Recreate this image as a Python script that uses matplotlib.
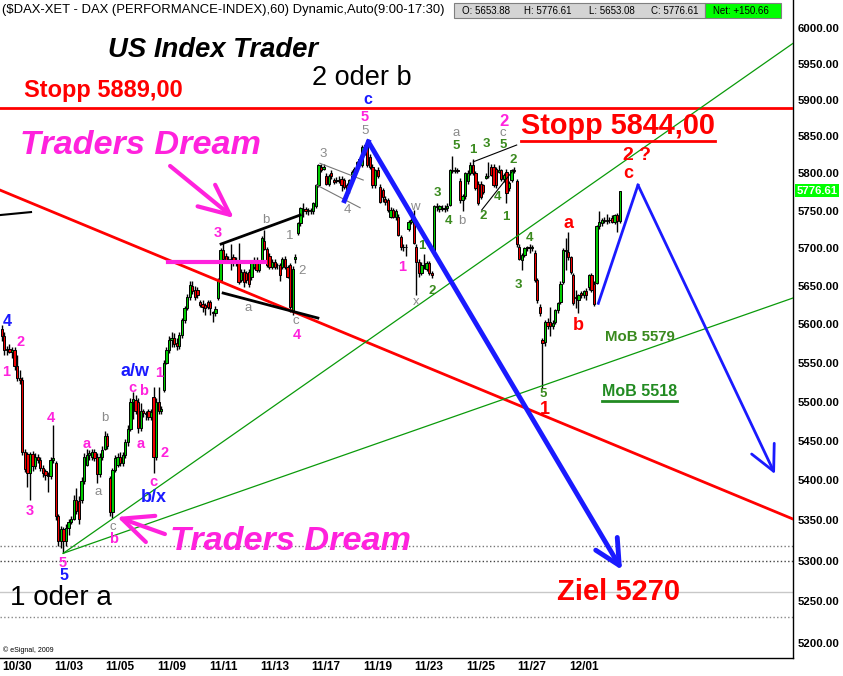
import matplotlib
matplotlib.use("Agg")
import matplotlib.pyplot as plt
import matplotlib.font_manager as fm
from matplotlib.lines import Line2D
from matplotlib.patches import Rectangle
from matplotlib.ticker import NullLocator
from matplotlib.transforms import blended_transform_factory
import numpy as np

# hourly DAX bars, 10 per trading day (first row: tail of 10/28 + 10/29)
opens = [
    5594, 5585, 5566, 5568, 5564, 5566, 5546, 5530, 5528, 5436, 5433,
    5409, 5433, 5418, 5430, 5426, 5416, 5412, 5407, 5405, 5426,
    5422, 5355, 5324, 5339, 5325, 5340, 5348, 5352, 5376, 5374,
    5376, 5399, 5420, 5432, 5430, 5436, 5430, 5408, 5430, 5440,
    5456, 5403, 5360, 5413, 5420, 5430, 5422, 5432, 5448, 5465,
    5500, 5502, 5500, 5466, 5488, 5486, 5488, 5480, 5506, 5430,
    5500, 5488, 5515, 5550, 5566, 5579, 5582, 5576, 5572, 5586,
    5605, 5621, 5636, 5650, 5645, 5645, 5629, 5626, 5625, 5629,
    5629, 5616, 5614, 5634, 5658, 5697, 5690, 5684, 5686, 5688,
    5684, 5681, 5658, 5669, 5667, 5669, 5662, 5675, 5684, 5671,
    5682, 5710, 5699, 5690, 5675, 5682, 5677, 5677, 5675, 5686,
    5675, 5677, 5616, 5686, 5720, 5733, 5751, 5752, 5749, 5749,
    5749, 5756, 5784, 5809, 5806, 5797, 5786, 5800, 5791, 5790,
    5791, 5793, 5791, 5784, 5777, 5791, 5800, 5809, 5817, 5811,
    5827, 5840, 5822, 5809, 5784, 5804, 5782, 5777, 5766, 5764,
    5742, 5751, 5742, 5742, 5715, 5702, 5701, 5726, 5735, 5742,
    5702, 5682, 5667, 5678, 5673, 5680, 5667, 5692, 5756, 5752,
    5754, 5752, 5754, 5758, 5804, 5803, 5804, 5790, 5764, 5770,
    5790, 5800, 5811, 5800, 5786, 5786, 5784, 5794, 5796, 5809,
    5809, 5806, 5802, 5804, 5792, 5802, 5780, 5791, 5804, 5790,
    5702, 5684, 5691, 5700, 5701, 5700, 5694, 5658, 5623, 5579,
    5577, 5603, 5603, 5597, 5603, 5618, 5629, 5655, 5697, 5695,
    5688, 5664, 5636, 5632, 5641, 5638, 5643, 5648, 5664, 5653,
    5653.88, 5729, 5733, 5737, 5736, 5738, 5740, 5735, 5744, 5736,
]
highs = [
    5599, 5590, 5572, 5574, 5570, 5570, 5560, 5540, 5531, 5440, 5436,
    5436, 5437, 5434, 5433, 5430, 5419, 5415, 5410, 5430, 5470,
    5425, 5358, 5343, 5342, 5345, 5352, 5356, 5382, 5390, 5380,
    5404, 5434, 5440, 5438, 5440, 5440, 5434, 5434, 5443, 5462,
    5460, 5406, 5416, 5432, 5434, 5436, 5436, 5452, 5470, 5504,
    5512, 5508, 5504, 5498, 5490, 5488, 5490, 5490, 5519, 5504,
    5519, 5494, 5554, 5570, 5584, 5590, 5588, 5582, 5590, 5608,
    5624, 5640, 5656, 5656, 5650, 5648, 5632, 5631, 5628, 5632,
    5631, 5617, 5624, 5660, 5700, 5707, 5694, 5690, 5706, 5692,
    5688, 5707, 5672, 5672, 5670, 5672, 5684, 5688, 5688, 5684,
    5716, 5724, 5702, 5693, 5686, 5686, 5680, 5680, 5688, 5690,
    5678, 5680, 5676, 5692, 5735, 5755, 5760, 5755, 5753, 5754,
    5762, 5786, 5812, 5813, 5812, 5800, 5799, 5805, 5794, 5795,
    5796, 5796, 5794, 5787, 5793, 5804, 5808, 5817, 5822, 5838,
    5840, 5843, 5826, 5812, 5806, 5808, 5786, 5780, 5770, 5767,
    5755, 5754, 5752, 5745, 5718, 5706, 5705, 5737, 5740, 5751,
    5705, 5686, 5681, 5692, 5683, 5683, 5670, 5758, 5760, 5758,
    5758, 5757, 5760, 5806, 5824, 5808, 5807, 5794, 5772, 5802,
    5804, 5815, 5820, 5803, 5790, 5790, 5786, 5800, 5815, 5812,
    5812, 5808, 5811, 5806, 5800, 5806, 5790, 5806, 5808, 5792,
    5706, 5694, 5702, 5703, 5706, 5704, 5697, 5661, 5626, 5582,
    5606, 5608, 5623, 5606, 5620, 5629, 5656, 5700, 5713, 5721,
    5690, 5667, 5645, 5640, 5644, 5645, 5647, 5666, 5667, 5656,
    5731, 5749, 5740, 5741, 5745, 5742, 5744, 5746, 5747, 5776.61,
]
lows = [
    5578, 5560, 5560, 5562, 5556, 5540, 5526, 5522, 5432, 5410, 5392,
    5376, 5412, 5414, 5422, 5412, 5404, 5400, 5386, 5402, 5422,
    5350, 5318, 5316, 5310, 5318, 5332, 5345, 5350, 5358, 5346,
    5372, 5396, 5418, 5426, 5426, 5424, 5397, 5404, 5426, 5438,
    5440, 5355, 5353, 5410, 5417, 5418, 5418, 5428, 5444, 5462,
    5478, 5484, 5460, 5462, 5480, 5476, 5476, 5476, 5409, 5426,
    5484, 5484, 5512, 5548, 5562, 5570, 5570, 5566, 5568, 5582,
    5602, 5618, 5632, 5640, 5632, 5634, 5622, 5616, 5612, 5620,
    5612, 5603, 5610, 5632, 5655, 5682, 5680, 5680, 5671, 5676,
    5676, 5653, 5655, 5648, 5654, 5648, 5658, 5672, 5668, 5668,
    5680, 5697, 5675, 5672, 5672, 5672, 5673, 5657, 5672, 5672,
    5660, 5616, 5612, 5680, 5718, 5730, 5742, 5746, 5744, 5745,
    5746, 5754, 5782, 5802, 5804, 5784, 5783, 5792, 5786, 5787,
    5787, 5776, 5779, 5772, 5774, 5789, 5798, 5806, 5815, 5808,
    5825, 5808, 5806, 5780, 5780, 5794, 5760, 5762, 5758, 5748,
    5740, 5740, 5738, 5716, 5698, 5696, 5689, 5723, 5732, 5705,
    5638, 5662, 5664, 5672, 5670, 5664, 5660, 5690, 5750, 5748,
    5750, 5748, 5750, 5756, 5800, 5800, 5800, 5760, 5750, 5766,
    5786, 5798, 5798, 5778, 5758, 5766, 5772, 5792, 5794, 5796,
    5782, 5780, 5800, 5790, 5788, 5760, 5776, 5788, 5800, 5702,
    5684, 5671, 5688, 5696, 5694, 5696, 5655, 5628, 5610, 5518,
    5572, 5594, 5584, 5594, 5600, 5615, 5626, 5652, 5671, 5684,
    5666, 5625, 5621, 5614, 5634, 5634, 5632, 5645, 5642, 5624,
    5653.08, 5726, 5730, 5733, 5732, 5734, 5733, 5732, 5721, 5733,
]
closes = [
    5585, 5566, 5568, 5564, 5566, 5546, 5530, 5528, 5436, 5414, 5409,
    5433, 5418, 5430, 5426, 5416, 5409, 5407, 5405, 5426, 5428,
    5355, 5324, 5339, 5325, 5340, 5348, 5352, 5376, 5362, 5352,
    5399, 5430, 5432, 5434, 5436, 5428, 5408, 5430, 5439, 5456,
    5443, 5360, 5413, 5428, 5430, 5422, 5432, 5448, 5465, 5500,
    5503, 5488, 5466, 5488, 5486, 5484, 5480, 5487, 5430, 5500,
    5488, 5490, 5550, 5566, 5579, 5582, 5574, 5572, 5586, 5605,
    5621, 5636, 5651, 5644, 5636, 5638, 5625, 5622, 5621, 5623,
    5621, 5614, 5620, 5658, 5697, 5686, 5684, 5686, 5684, 5680,
    5680, 5655, 5669, 5655, 5658, 5653, 5680, 5684, 5671, 5680,
    5714, 5699, 5677, 5675, 5682, 5675, 5677, 5664, 5686, 5675,
    5662, 5622, 5673, 5688, 5733, 5753, 5752, 5749, 5751, 5751,
    5760, 5784, 5811, 5804, 5809, 5786, 5797, 5796, 5788, 5791,
    5790, 5784, 5782, 5776, 5791, 5802, 5806, 5815, 5820, 5836,
    5838, 5811, 5809, 5784, 5804, 5797, 5762, 5768, 5762, 5751,
    5751, 5742, 5750, 5718, 5702, 5701, 5702, 5735, 5738, 5707,
    5682, 5667, 5678, 5676, 5680, 5667, 5665, 5756, 5755, 5756,
    5752, 5754, 5756, 5804, 5803, 5804, 5803, 5764, 5770, 5800,
    5800, 5811, 5800, 5780, 5760, 5768, 5775, 5796, 5797, 5798,
    5784, 5784, 5804, 5792, 5798, 5774, 5787, 5804, 5803, 5705,
    5686, 5691, 5700, 5701, 5700, 5702, 5658, 5631, 5614, 5575,
    5603, 5597, 5597, 5601, 5618, 5627, 5653, 5697, 5696, 5688,
    5669, 5628, 5634, 5638, 5638, 5643, 5638, 5664, 5645, 5625.95,
    5729, 5735, 5737, 5736, 5738, 5737, 5735, 5744, 5736, 5776.61,
]

days = ["10/30", "11/02", "11/03", "11/04", "11/05", "11/06", "11/09", "11/10",
        "11/11", "11/12", "11/13", "11/16", "11/17", "11/18", "11/19", "11/20",
        "11/23", "11/24", "11/25", "11/26", "11/27", "11/30", "12/01"]
first_day_bar = 11
bars_per_day = 10

price_ticks = list(range(5200, 6001, 50))
last_close = 5776.61
day_open, day_high, day_low, day_net = 5653.88, 5776.61, 5653.08, 150.66
stopp_level = 5889
bottom_levels = [5318, 5300, 5262, 5231]

# drawn lines: (bar index, price) end points
red_trend = ([-0.65, 307.3], [5777.5, 5351.7])
green_fast = ([23.9, 307.3], [5309.2, 5978.2])
green_slow = ([23.9, 307.3], [5309.2, 5634.2])
pink_level = ([64.6, 102.3], [5682, 5682])
tri_upper = ([85.2, 115.9], [5705.4, 5744.0])
tri_lower = ([86.0, 122.8], [5640.7, 5608.0])
chan_a = ([123.6, 140.4], [5813.6, 5791.0])
chan_b = ([122.3, 139.2], [5784.3, 5753.8])
wedge_upper = ([183.2, 200.0], [5815.7, 5838.4])
wedge_lower = ([186.4, 198.7], [5750.7, 5804.5])
black_stub = ([-0.65, 11.4], [5744.0, 5748.0])
blue_4_5 = ([133.1, 142.4], [5763.2, 5842.8])
blue_main = ([142.4, 240.9], [5842.8, 5288.6])
blue_path = ([231.7, 247.1, 300.3], [5627.2, 5784.3, 5408.0])
pink_arrow_1 = ((65.4, 5810.0), (90.2, 5740.0))
pink_arrow_2 = ((63.4, 5333.0), (44.8, 5354.3))

W, H = 843, 676
PINK = "#ff22dd"
BLUE = "#1a1aff"
GRAY = "#8a8a8a"
OLIVE = "#3a8a1e"
RED = "#ff0000"
LGREEN = "#0a9a0a"

plt.rcParams["font.family"] = "Liberation Sans"
names = {f.name for f in fm.fontManager.ttflist}
narrow = "Liberation Sans Narrow" if "Liberation Sans Narrow" in names else "Liberation Sans"
head_size = 11.3 if narrow == "Liberation Sans Narrow" else 9.4

fig = plt.figure(figsize=(W / 100, H / 100), dpi=100)
ax = fig.add_axes([0, 18 / H, 793 / W, 658 / H])
ax.set_yscale("log")

# candles
x = np.arange(len(closes))
o = np.array(opens)
c = np.array(closes)
up = c >= o
ax.vlines(x, lows, highs, color="black", lw=1.0, zorder=3)
ax.bar(x, np.maximum(np.abs(c - o), 0.8), bottom=np.minimum(o, c), width=0.88,
       color=np.where(up, "#00cc00", "#ee0000"), edgecolor="black", lw=0.7, zorder=4)

# levels and lines
ax.axhline(stopp_level, color=RED, lw=2, zorder=5)
for lvl, st, col in zip(bottom_levels, [":", ":", "-", ":"], ["#777777", "#444444", "#c8c8c8", "#888888"]):
    ax.axhline(lvl, color=col, ls=st, lw=1, zorder=1)
ax.plot(*red_trend, color=RED, lw=2, zorder=5)
ax.plot(*green_fast, color=LGREEN, lw=0.9, zorder=5)
ax.plot(*green_slow, color=LGREEN, lw=0.9, zorder=5)
ax.plot(*pink_level, color=PINK, lw=3, zorder=5)
ax.plot(*tri_upper, color="black", lw=2, zorder=5)
ax.plot(*tri_lower, color="black", lw=2, zorder=5)
ax.plot(*chan_a, color="#777777", lw=0.8, zorder=5)
ax.plot(*chan_b, color="#777777", lw=0.8, zorder=5)
ax.plot(*wedge_upper, color="black", lw=0.8, zorder=5)
ax.plot(*wedge_lower, color="black", lw=0.8, zorder=5)
ax.plot(*black_stub, color="black", lw=1.5, zorder=5)
ax.plot(*blue_4_5, color=BLUE, lw=3.5, zorder=6)

head = dict(mutation_scale=20, shrinkA=0, shrinkB=0)
ax.annotate("", xy=(blue_main[0][1], blue_main[1][1]), xytext=(blue_main[0][0], blue_main[1][0]),
            arrowprops=dict(arrowstyle="->,head_length=0.9,head_width=0.45", color=BLUE, lw=3.5, **head), zorder=6)
ax.plot(blue_path[0][:2], blue_path[1][:2], color=BLUE, lw=2, zorder=6)
ax.annotate("", xy=(blue_path[0][2], blue_path[1][2]), xytext=(blue_path[0][1], blue_path[1][1]),
            arrowprops=dict(arrowstyle="->,head_length=0.9,head_width=0.45", color=BLUE, lw=2, **head), zorder=6)
for tail, tip in (pink_arrow_1, pink_arrow_2):
    ax.annotate("", xy=tip, xytext=tail,
                arrowprops=dict(arrowstyle="->,head_length=1.1,head_width=0.5", color=PINK, lw=3, **head), zorder=7)

# axes
ax.set_xlim(-0.65, 307.3)
ax.set_ylim(5181.4, 6038.8)
ax.yaxis.set_minor_locator(NullLocator())
ax.set_yticks(price_ticks)
ax.set_yticklabels([f"{t:.2f}" for t in price_ticks], fontsize=8.2, fontweight="bold")
ax.yaxis.tick_right()
ax.tick_params(axis="y", length=0, pad=3)
ticks = [first_day_bar + bars_per_day * k - 5 for k in range(0, len(days), 2)]
ax.set_xticks(ticks)
ax.set_xticklabels(days[::2], fontsize=8.5, fontweight="bold")
ax.tick_params(axis="x", length=0, pad=2)
for s in ("top", "left"):
    ax.spines[s].set_visible(False)
for s in ("right", "bottom"):
    ax.spines[s].set_linewidth(1)

flag = blended_transform_factory(ax.transAxes, ax.transData)
ax.text(1.004, last_close, f"{last_close:.2f}", transform=flag, ha="left", va="center",
        color="white", fontsize=8.2, fontweight="bold", clip_on=False,
        bbox=dict(boxstyle="square,pad=0.12", fc="#00ff00", ec="none"))


def ftxt(px, py, s, color="black", size=10, weight="bold", ha="center", style="normal", family=None):
    fig.text(px / W, 1 - py / H, s, color=color, fontsize=size, fontweight=weight,
             ha=ha, va="center", fontstyle=style, family=family)


def fline(x1, x2, py, color, lw=2):
    fig.add_artist(Line2D([x1 / W, x2 / W], [1 - py / H] * 2, color=color, lw=lw))


# header
ftxt(2, 10, "($DAX-XET - DAX (PERFORMANCE-INDEX),60) Dynamic,Auto(9:00-17:30)",
     size=head_size, weight="normal", ha="left", family=narrow)
fig.add_artist(Rectangle((454 / W, 1 - 18 / H), 251 / W, 15 / H, transform=fig.transFigure,
                         fc="#d4d4d4", ec="#808080", lw=0.8))
fig.add_artist(Rectangle((705 / W, 1 - 18 / H), 76 / W, 15 / H, transform=fig.transFigure,
                         fc="#00ff00", ec="#808080", lw=0.8))
for px_, s in [(462, f"O: {day_open:.2f}"), (524, f"H: {day_high:.2f}"),
               (589, f"L: {day_low:.2f}"), (651, f"C: {last_close:.2f}"), (713, f"Net: +{day_net:.2f}")]:
    ftxt(px_, 10.5, s, size=7, weight="normal", ha="left", family=narrow)

# big texts
ftxt(108, 50, "US Index Trader", size=19.8, style="italic", ha="left")
ftxt(312, 78, "2 oder b", size=19.5, weight="normal", ha="left")
ftxt(24, 90, "Stopp 5889,00", color=RED, size=17, ha="left")
ftxt(521, 126, "Stopp 5844,00", color=RED, size=20.8, ha="left")
fline(521, 715, 141, RED)
ftxt(20, 146, "Traders Dream", color=PINK, size=24.7, style="italic", ha="left")
ftxt(170, 541, "Traders Dream", color=PINK, size=24.7, style="italic", ha="left")
ftxt(10, 598, "1 oder a", size=20, weight="normal", ha="left")
ftxt(557, 592, "Ziel 5270", color=RED, size=21, ha="left")
ftxt(605, 337, "MoB 5579", color=OLIVE, size=10.8, ha="left")
ftxt(602, 391, "MoB 5518", color="#228b22", size=11.5, ha="left")
fline(602, 677, 401, "#228b22")
ftxt(3, 650, "\u00a9 eSignal, 2009", size=5, weight="normal", ha="left")

# wave counts
for px_, py_, s in [(21, 342, "2"), (6, 372, "1"), (51, 418, "4"), (30, 511, "3"), (63, 563, "5"),
                    (87, 444, "a"), (114, 539, "b"), (132, 388, "c"), (144, 391, "b"), (141, 444, "a"),
                    (159, 373, "1"), (165, 453, "2"), (153, 482, "c"), (218, 233, "3"), (297, 335, "4"),
                    (365, 117, "5"), (402, 267, "1")]:
    ftxt(px_, py_, s, color=PINK, size=10.5)
ftxt(504, 121, "2", color=PINK, size=12)
for px_, py_, s in [(7, 321, "4"), (64, 576, "5"), (368, 100, "c")]:
    ftxt(px_, py_, s, color=BLUE, size=11.5)
ftxt(135, 371, "a/w", color=BLUE, size=13)
ftxt(154, 497, "b/x", color=BLUE, size=13)
for px_, py_, s in [(105, 418, "b"), (98, 492, "a"), (113, 527, "c"), (266, 220, "b"), (248, 308, "a"),
                    (290, 236, "1"), (302, 271, "2"), (323, 154, "3"), (347, 210, "4"), (365, 131, "5"),
                    (296, 321, "c"), (415, 207, "w"), (416, 302, "x"), (462, 221, "b"), (456, 133, "a"),
                    (503, 133, "c")]:
    ftxt(px_, py_, s, color=GRAY, size=9.5, weight="normal")
for px_, py_, s in [(422, 246, "1"), (432, 291, "2"), (437, 193, "3"), (449, 221, "4"), (456, 146, "5"),
                    (473, 150, "1"), (486, 144, "3"), (503, 145, "5"), (513, 160, "2"), (483, 216, "2"),
                    (497, 197, "4"), (506, 217, "1"), (518, 285, "3"), (530, 238, "4"), (543, 394, "5")]:
    ftxt(px_, py_, s, color=OLIVE, size=9.5)
for px_, py_, s in [(568, 223, "a"), (578, 326, "b"), (628, 174, "c"), (545, 410, "1")]:
    ftxt(px_, py_, s, color=RED, size=13)
ftxt(637, 156, "2 ?", color=RED, size=14)

fig.savefig("out.png", dpi=100)
